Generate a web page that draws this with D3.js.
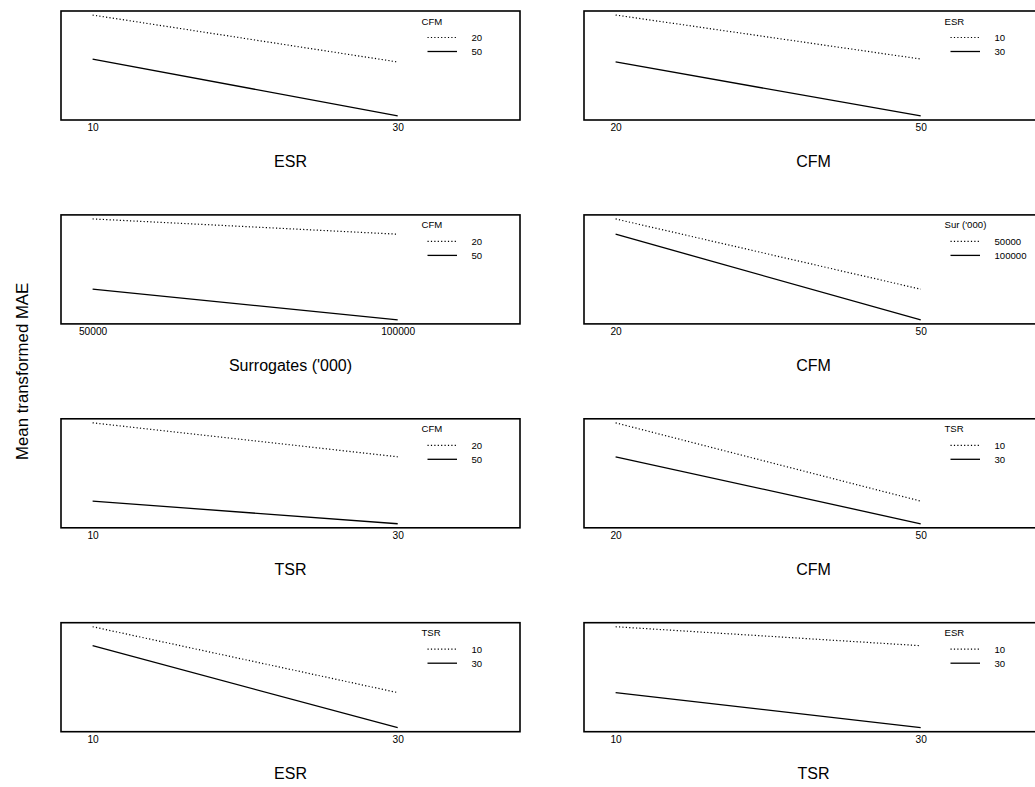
<!DOCTYPE html>
<html>
<head>
<meta charset="utf-8">
<script src="https://cdn.jsdelivr.net/npm/d3@7"></script>
<style>
  html, body { margin: 0; padding: 0; background: #fff; }
  svg { display: block; }
  text { font-family: "Liberation Sans", Arial, Helvetica, sans-serif; fill: #000; }
</style>
</head>
<body>
<svg id="chart" width="1035" height="787"></svg>
<script>
// Factor levels
const cfmLevels = ["20", "50"];
const esrLevels = ["10", "30"];
const tsrLevels = ["10", "30"];
const surLevels = ["50000", "100000"];

// Mean transformed MAE for each pair of factors (rows = first factor, columns = second)
const maeCfmEsr = [[0.4475, 0.4010], [0.4039, 0.3475]];   // [CFM][ESR]
const maeCfmSur = [[0.4290, 0.4195], [0.3853, 0.3662]];   // [CFM][Surrogates]
const maeCfmTsr = [[0.4355, 0.4129], [0.3834, 0.3683]];   // [CFM][TSR]
const maeEsrTsr = [[0.4323, 0.4191], [0.3865, 0.3621]];   // [ESR][TSR]

// Panel order, read row by row
const panelXTitles = ["ESR", "CFM", "Surrogates ('000)", "CFM", "TSR", "CFM", "ESR", "TSR"];
const panelTraceTitles = ["CFM", "ESR", "CFM", "Sur ('000)", "CFM", "TSR", "TSR", "ESR"];

const transpose = m => m[0].map((_, j) => m.map(r => r[j]));

// Each panel: x factor levels, trace levels, values[trace][x]
const panels = [
  { xLv: esrLevels, tLv: cfmLevels, vals: maeCfmEsr },
  { xLv: cfmLevels, tLv: esrLevels, vals: transpose(maeCfmEsr) },
  { xLv: surLevels, tLv: cfmLevels, vals: maeCfmSur },
  { xLv: cfmLevels, tLv: surLevels, vals: transpose(maeCfmSur) },
  { xLv: tsrLevels, tLv: cfmLevels, vals: maeCfmTsr },
  { xLv: cfmLevels, tLv: tsrLevels, vals: transpose(maeCfmTsr) },
  { xLv: esrLevels, tLv: tsrLevels, vals: transpose(maeEsrTsr) },
  { xLv: tsrLevels, tLv: esrLevels, vals: maeEsrTsr }
].map((p, i) => ({ ...p, xTitle: panelXTitles[i], traceTitle: panelTraceTitles[i] }));

const lineStyles = ["1.2,2.2", null]; // dotted for first trace level, solid for second

const svg = d3.select("#chart");

const colLeft = [61, 584];
const panelW = 459, panelH = 109;
const rowTop0 = 11, rowStep = 203.9;

panels.forEach((p, i) => {
  const row = Math.floor(i / 2), col = i % 2;
  const left = colLeft[col];
  const top = rowTop0 + row * rowStep;
  const bottom = top + panelH;

  const x = d3.scalePoint().domain(p.xLv).range([left + 31.6, left + 336.7]);
  const flat = p.vals.flat();
  const [lo, hi] = d3.extent(flat);
  const pad = (hi - lo) * 0.04;
  const y = d3.scaleLinear().domain([lo - pad, hi + pad]).range([bottom, top]);

  const g = svg.append("g");

  // frame
  g.append("rect")
    .attr("x", left).attr("y", top)
    .attr("width", panelW).attr("height", panelH)
    .attr("fill", "none").attr("stroke", "#000").attr("stroke-width", 1.6);

  // traces
  const line = d3.line().x(d => x(d.lv)).y(d => y(d.v));
  p.vals.forEach((series, k) => {
    const pts = series.map((v, j) => ({ lv: p.xLv[j], v }));
    g.append("path")
      .datum(pts)
      .attr("d", line)
      .attr("fill", "none")
      .attr("stroke", "#000")
      .attr("stroke-width", k === 0 ? 1.2 : 1.3)
      .attr("stroke-dasharray", lineStyles[k]);
  });

  // x axis labels (no tick marks)
  const axis = d3.axisBottom(x).tickSize(0).tickPadding(0);
  const ax = g.append("g").attr("transform", `translate(0,${bottom})`).call(axis);
  ax.select(".domain").remove();
  ax.selectAll("text")
    .attr("y", 11).attr("dy", null)
    .style("font-size", "10.2px")
    .style("font-family", "\"Liberation Sans\", Arial, sans-serif");

  // x axis title
  g.append("text")
    .attr("x", left + panelW / 2).attr("y", bottom + 47)
    .attr("text-anchor", "middle")
    .style("font-size", "16px")
    .text(p.xTitle);

  // legend
  const lg = g.append("g").attr("transform", `translate(${left},${top})`);
  lg.append("text")
    .attr("x", 360.5).attr("y", 13.5)
    .style("font-size", "9.6px")
    .text(p.traceTitle);
  p.tLv.forEach((lv, k) => {
    const ly = 26.5 + k * 14;
    lg.append("line")
      .attr("x1", 366.5).attr("x2", 396)
      .attr("y1", ly).attr("y2", ly)
      .attr("stroke", "#000")
      .attr("stroke-width", k === 0 ? 1.2 : 1.3)
      .attr("stroke-dasharray", lineStyles[k]);
    lg.append("text")
      .attr("x", 410.5).attr("y", ly + 3.4)
      .style("font-size", "9.6px")
      .text(lv);
  });
});

// shared y axis title
svg.append("text")
  .attr("transform", `translate(28,${rowTop0 + (3 * rowStep + panelH) / 2}) rotate(-90)`)
  .attr("text-anchor", "middle")
  .style("font-size", "16.8px")
  .text("Mean transformed MAE");
</script>
</body>
</html>
